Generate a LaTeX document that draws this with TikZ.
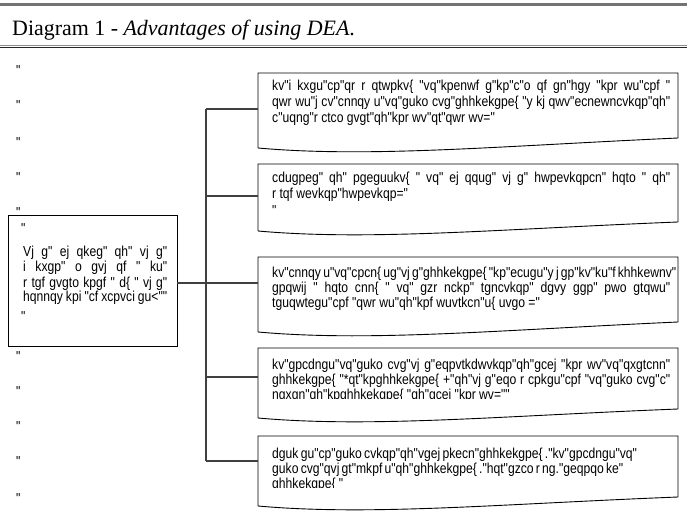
\documentclass[tikz,border=0pt]{standalone}
\usepackage{fontspec}
\setmainfont{Liberation Serif}
\newfontfamily\boxfont[FakeStretch=0.84]{Liberation Sans}
\newcommand\jl[2]{\makebox[#1bp][s]{#2}}
\newcommand\docshape[3]{%
  \draw[docline] (258,#2) -- (258,#1) -- (678,#1) -- (678,#3)
    .. controls (500,{#2-2}) and (370,{#2+10}) .. (258,#2);}
\begin{document}
\begin{tikzpicture}[x=1bp,y=-1bp,
  docline/.style={draw=black, line width=0.9bp},
  conn/.style={draw=black!75, line width=1.1bp},
  txt/.style={anchor=base west, inner sep=0pt, font=\boxfont\fontsize{14.5}{16}\selectfont},
  lbl/.style={anchor=base west, inner sep=0pt, font=\boxfont\fontsize{14.5}{16}\selectfont}]
\useasboundingbox (0,0) rectangle (687,526);
\fill[white] (0,0) rectangle (687,526);
% title rules
\draw[line width=2.2bp, black!55] (0,4.5) -- (687,4.5);
\draw[line width=1bp, black!45] (0,45.8) -- (687,45.8);
\draw[line width=1.2bp, black!85] (0,47.6) -- (687,47.6);
\node[anchor=base west, inner sep=0pt, font=\fontsize{22}{26}\selectfont] (title) at (12,36)
  {Diagram 1 - \textit{Advantages of using DEA}.};
% left column marks
\foreach \yy [count=\i] in {76,111,148,183,218,361,396,431,466,503}
  \node[lbl] (m\i) at (16,\yy) {"};
% left box
\node[draw=black, line width=0.9bp, minimum width=169bp, minimum height=131bp, inner sep=0pt] (lbox) at (92.5,280.5) {};
\node[lbl] (l0) at (21,234) {"};
\node[txt] (l1) at (23,257) {\jl{144}{Vj g" ej qkeg" qh" vj g"}};
\node[txt] (l2) at (23,272) {\jl{144}{i kxgp" o gvj qf " ku"}};
\node[txt] (l3) at (23,287) {\jl{144}{r tgf gvgto kpgf " d\{ " vj g"}};
\node[txt] (l4) at (23,301.5) {\jl{144}{hqnnqy kpi "cf xcpvci gu<""}};
\node[lbl] (l5) at (21,321) {"};
% document boxes
\docshape{73}{148}{138}
\docshape{164}{231}{222}
\docshape{257}{332}{322}
\docshape{348}{418}{409}
\docshape{436}{506}{497}
% box 1 text
\node[txt] (a1) at (272,91) {\jl{398}{kv"i kxgu"cp"qr r qtwpkv\{ "vq"kpenwf g"kp"c"o qf gn"hgy "kpr wu"cpf "}};
\node[txt] (a2) at (272,107) {\jl{398}{qwr wu"j cv"cnnqy u"vq"guko cvg"ghhkekgpe\{ "y kj qwv"ecnewncvkqp"qh"}};
\node[txt] (a3) at (272,123) {c"uqng"r ctco gvgt"qh"kpr wv"qt"qwr wv="};
% box 2 text
\node[txt] (b1) at (272,183) {\jl{398}{cdugpeg" qh" pgeguukv\{ " vq" ej qqug" vj g" hwpevkqpcn" hqto " qh"}};
\node[txt] (b2) at (272,198.5) {r tqf wevkqp"hwpevkqp="};
\node[txt] (b3) at (272,216) {"};
% box 3 text
\node[txt] (c1) at (272,277) {\jl{398}{kv"cnnqy u"vq"cpcn\{ ug"vj g"ghhkekgpe\{ "kp"ecugu"y j gp"kv"ku"f khhkewnv"}};
\node[txt] (c2) at (272,292) {\jl{398}{gpqwij " hqto cnn\{ " vq" gzr nckp" tgncvkqp" dgvy ggp" pwo gtqwu"}};
\node[txt] (c3) at (272,307) {tguqwtegu"cpf "qwr wu"qh"kpf wuvtkcn"u\{ uvgo ="};
% box 4 text
\node[txt] (d1) at (272,369) {\jl{398}{kv"gpcdngu"vq"guko cvg"vj g"eqpvtkdwvkqp"qh"gcej "kpr wv"vq"qxgtcnn"}};
\node[txt] (d2) at (272,384) {\jl{398}{ghhkekgpe\{ "*qt"kpghhkekgpe\{ +"qh"vj g"eqo r cpkgu"cpf "vq"guko cvg"c"}};
\begin{scope}
  \clip (262,385) rectangle (676,398.5);
  \node[txt] (d3) at (272,399) {ngxgn"qh"kpghhkekgpe\{ "qh"gcej "kpr wv=""};
\end{scope}
% box 5 text
\node[txt] (e1) at (272,458) {\jl{348}{dguk gu"cp"guko cvkqp"qh"vgej pkecn"ghhkekgpe\{ ."kv"gpcdngu"vq"}};
\node[txt] (e2) at (272,473) {\jl{348}{guko cvg"qvj gt"mkpf u"qh"ghhkekgpe\{ ."hqt"gzco r ng."geqpqo ke"}};
\begin{scope}
  \clip (262,474) rectangle (676,487.5);
  \node[txt] (e3) at (272,488) {ghhkekgpe\{ "};
\end{scope}
% connectors
\coordinate (j1) at (206,109);
\coordinate (j2) at (206,196);
\coordinate (j3) at (206,283);
\coordinate (j4) at (206,377);
\coordinate (j5) at (206,461);
\coordinate (k1) at (258,109);
\coordinate (k2) at (258,196);
\coordinate (k3) at (258,283);
\coordinate (k4) at (258,377);
\coordinate (k5) at (258,461);
\draw[conn] (j1) -- (j5);
\draw[conn] (j1) -- (k1);
\draw[conn] (j2) -- (k2);
\draw[conn] (lbox.east |- j3) -- (k3);
\draw[conn] (j4) -- (k4);
\draw[conn] (j5) -- (k5);
\end{tikzpicture}
\end{document}
